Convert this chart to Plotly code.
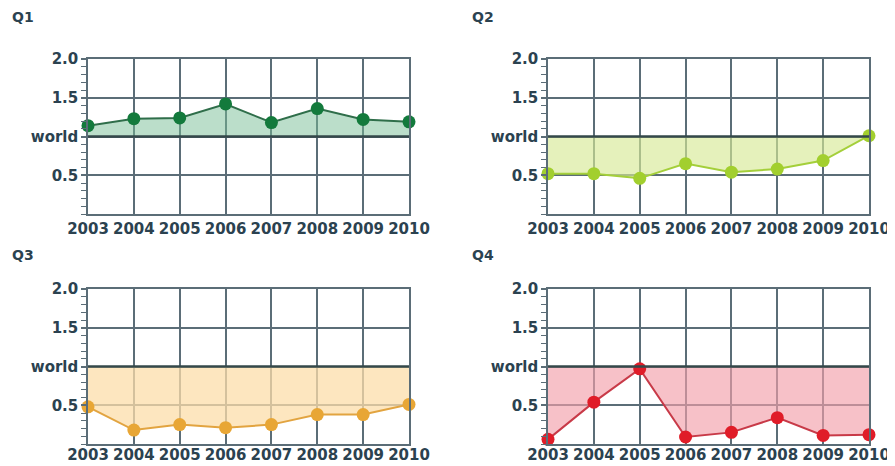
import plotly.graph_objects as go

years = [2003, 2004, 2005, 2006, 2007, 2008, 2009, 2010]
world_level = 1.0
q1 = [1.14, 1.23, 1.24, 1.42, 1.18, 1.36, 1.22, 1.19]
q2 = [0.52, 0.52, 0.46, 0.65, 0.54, 0.58, 0.69, 1.01]
q3 = [0.48, 0.18, 0.25, 0.21, 0.25, 0.38, 0.38, 0.51]
q4 = [0.06, 0.54, 0.97, 0.09, 0.15, 0.34, 0.11, 0.12]
panel_titles = ["Q1", "Q2", "Q3", "Q4"]
y_tickvals = [0.5, 1.0, 1.5, 2.0]
y_ticktext = ["0.5", "world", "1.5", "2.0"]
x_ticktext = [str(y) for y in years]

series = [q1, q2, q3, q4]
styles = [
    dict(marker="#137a3c", line="#2f6e4a", fill="rgba(120,190,150,0.5)"),
    dict(marker="#a2cf2e", line="#a4cf3a", fill="rgba(215,234,150,0.65)"),
    dict(marker="#e8a635", line="#e2a440", fill="rgba(252,222,170,0.75)"),
    dict(marker="#e01c28", line="#c83a48", fill="rgba(242,160,170,0.65)"),
]

# the page body adds an 8px margin, so the figure is placed at (8, 8)
OFF = 8
W, H = 895 - OFF, 466 - OFF
# panel pixel boxes in the screenshot: x0, x1, ytop, ybottom
boxes = [(88, 409, 59, 214), (548, 869, 59, 214), (88, 409, 289, 444), (548, 869, 289, 444)]
title_pos = [(10, 17), (470, 17), (10, 255), (470, 255)]
label_standoff = [0, 0, -4, -4]

TXT = "#2b4250"
GRID = "#5b6d77"
FONT = "DejaVu Sans"


def fx(px):
    return (px - OFF) / W


def fy(py):
    return 1 - (py - OFF) / H


fig = go.Figure()
for i, (vals, st) in enumerate(zip(series, styles)):
    n = i + 1
    xa = "x" if n == 1 else f"x{n}"
    ya = "y" if n == 1 else f"y{n}"
    fig.add_trace(go.Scatter(x=years, y=[world_level] * len(years), mode="lines",
                             line=dict(color="rgba(0,0,0,0)", width=0),
                             hoverinfo="skip", showlegend=False, xaxis=xa, yaxis=ya))
    fig.add_trace(go.Scatter(x=years, y=vals, mode="lines+markers", fill="tonexty",
                             fillcolor=st["fill"],
                             line=dict(color=st["line"], width=2),
                             marker=dict(color=st["marker"], size=13),
                             cliponaxis=False, showlegend=False, xaxis=xa, yaxis=ya))
    x0, x1, yt, yb = boxes[i]
    xkey = "xaxis" if n == 1 else f"xaxis{n}"
    ykey = "yaxis" if n == 1 else f"yaxis{n}"
    fig.layout[xkey] = dict(
        domain=[fx(x0), fx(x1)], anchor=ya, range=[years[0], years[-1]],
        tickvals=years, ticktext=x_ticktext, tickangle=0,
        showgrid=True, gridcolor=GRID, gridwidth=1.5,
        showline=True, linecolor=GRID, linewidth=1.5, mirror=True, zeroline=False,
        ticks="", automargin=False, ticklabelstandoff=label_standoff[i],
        tickfont=dict(family=FONT, size=15, color=TXT, weight="bold"),
    )
    fig.layout[ykey] = dict(
        domain=[fy(yb), fy(yt)], anchor=xa, range=[0, 2.0],
        tickvals=y_tickvals, ticktext=y_ticktext, showgrid=True, gridcolor=GRID, gridwidth=1.5,
        showline=True, linecolor=GRID, linewidth=1.5, mirror=True, zeroline=False,
        ticks="outside", ticklen=5, tickcolor=GRID, tickwidth=1.5, automargin=False,
        minor=dict(dtick=0.1, ticks="outside", ticklen=5, tickcolor=GRID, tickwidth=1.2, showgrid=False),
        tickfont=dict(family=FONT, size=15, color=TXT, weight="bold"),
    )
    fig.add_shape(type="line", xref=xa, yref=ya, x0=years[0], x1=years[-1],
                  y0=world_level, y1=world_level, line=dict(color="#34484a", width=2.5))
    tx, ty = title_pos[i]
    fig.add_annotation(text=panel_titles[i], xref="paper", yref="paper",
                       x=fx(tx), y=fy(ty), xanchor="left", yanchor="middle",
                       showarrow=False, font=dict(family=FONT, size=14, color=TXT, weight="bold"))

fig.update_layout(width=W, height=H, margin=dict(l=0, r=0, t=0, b=0, autoexpand=False),
                  paper_bgcolor="white", plot_bgcolor="white")
fig.write_html("out.html")
